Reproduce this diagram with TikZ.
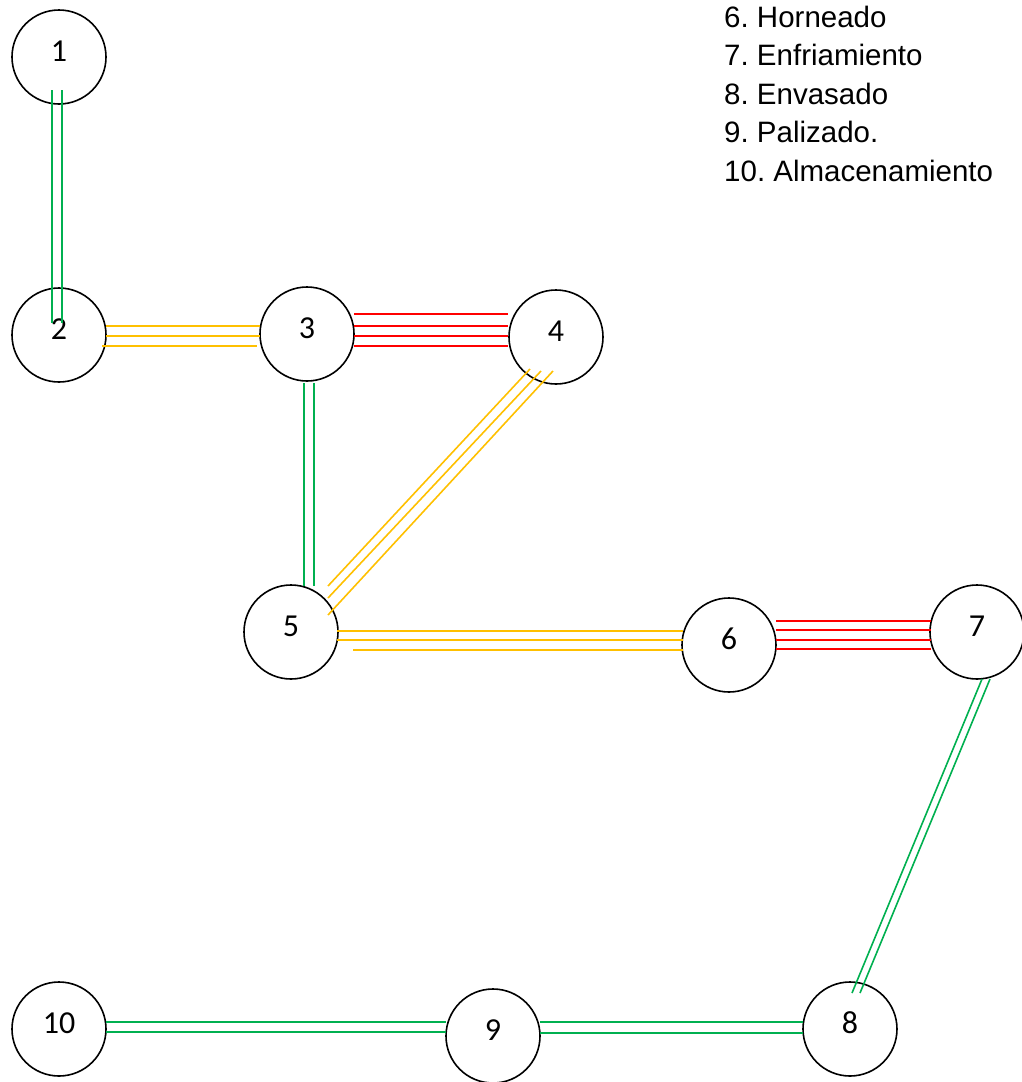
\documentclass[tikz,border=0pt]{standalone}
\usepackage{fontspec}
\setmainfont{Liberation Sans}
\newfontfamily\numfont{Carlito}
\usetikzlibrary{calc}
\definecolor{lgreen}{HTML}{00B050}
\definecolor{lyellow}{HTML}{FFC000}
\definecolor{lred}{HTML}{FF0000}
\frenchspacing
\begin{document}
\begin{tikzpicture}[x=1pt,y=-1pt,
  stage/.style={circle,draw=black,line width=1.6pt,minimum size=94pt,inner sep=0pt,
    font=\numfont\fontsize{32}{36}\selectfont,text height=20pt,text depth=12pt},
  gline/.style={draw=lgreen,line width=1.6pt},
  yline/.style={draw=lyellow,line width=1.6pt},
  rline/.style={draw=lred,line width=1.6pt},
  legend/.style={anchor=base west,inner sep=0pt,font=\fontsize{29.5}{34}\selectfont}]
\useasboundingbox (0,0) rectangle (1021,1082);

% stages
\node[stage] (n1)  at (59,57)    {1};
\node[stage] (n2)  at (59,335)   {2};
\node[stage] (n3)  at (307,334)  {3};
\node[stage] (n4)  at (556,337)  {4};
\node[stage] (n5)  at (291,632)  {5};
\node[stage] (n6)  at (729,645)  {6};
\node[stage] (n7)  at (977,632)  {7};
\node[stage] (n8)  at (850,1029) {8};
\node[stage] (n9)  at (493,1036) {9};
\node[stage] (n10) at (59,1029)  {10};

% 1 - 2 (double, green)
\draw[gline] ($(n1)+(-7,33)$) -- ($(n2)+(-7,-12)$);
\draw[gline] ($(n1)+(3,33)$)  -- ($(n2)+(3,-12)$);

% 2 - 3 (triple, yellow)
\draw[yline] ($(n2)+(47,-9)$) -- ($(n3)+(-47,-8)$);
\draw[yline] ($(n2)+(47,1)$)  -- ($(n3)+(-47,2)$);
\draw[yline] ($(n2)+(43,11)$) -- ($(n3)+(-50,12)$);

% 3 - 4 (quadruple, red)
\draw[rline] ($(n3)+(47,-20)$) -- ($(n4)+(-48,-23)$);
\draw[rline] ($(n3)+(47,-8)$)  -- ($(n4)+(-48,-11)$);
\draw[rline] ($(n3)+(47,2)$)   -- ($(n4)+(-48,-1)$);
\draw[rline] ($(n3)+(47,12)$)  -- ($(n4)+(-48,9)$);

% 3 - 5 (double, green)
\draw[gline] ($(n3)+(-3,49)$) -- ($(n5)+(13,-46)$);
\draw[gline] ($(n3)+(7,49)$)  -- ($(n5)+(23,-46)$);

% 4 - 5 (triple, yellow)
\draw[yline] ($(n4)+(-26,32)$) -- ($(n5)+(37,-46)$);
\draw[yline] ($(n4)+(-15,34)$) -- ($(n5)+(37,-34)$);
\draw[yline] ($(n4)+(-3,34)$)  -- ($(n5)+(37,-17)$);

% 5 - 6 (triple, yellow)
\draw[yline] ($(n5)+(46,-1)$) -- ($(n6)+(-46,-14)$);
\draw[yline] ($(n5)+(46,8)$)  -- ($(n6)+(-46,-5)$);
\draw[yline] ($(n5)+(62,18)$) -- ($(n6)+(-46,5)$);

% 6 - 7 (quadruple, red)
\draw[rline] ($(n6)+(47,-24)$) -- ($(n7)+(-46,-11)$);
\draw[rline] ($(n6)+(47,-15)$) -- ($(n7)+(-46,-2)$);
\draw[rline] ($(n6)+(47,-5)$)  -- ($(n7)+(-46,8)$);
\draw[rline] ($(n6)+(47,4)$)   -- ($(n7)+(-46,17)$);

% 7 - 8 (double, green)
\draw[gline] ($(n7)+(5,47)$)  -- ($(n8)+(2,-36)$);
\draw[gline] ($(n7)+(13,47)$) -- ($(n8)+(10,-36)$);

% 9 - 8 (double, green)
\draw[gline] ($(n9)+(47,-14)$) -- ($(n8)+(-47,-7)$);
\draw[gline] ($(n9)+(47,-3)$)  -- ($(n8)+(-47,4)$);

% 10 - 9 (double, green)
\draw[gline] ($(n10)+(47,-7)$) -- ($(n9)+(-47,-14)$);
\draw[gline] ($(n10)+(47,3)$)  -- ($(n9)+(-47,-4)$);

% legend
\node[legend] (l6)  at (724,27)    {6. Horneado};
\node[legend] (l7)  at (724,65.5)  {7. Enfriamiento};
\node[legend] (l8)  at (724,104)   {8. Envasado};
\node[legend] (l9)  at (724,142.5) {9. Palizado.};
\node[legend] (l10) at (724,181)   {10. Almacenamiento};
\end{tikzpicture}
\end{document}
